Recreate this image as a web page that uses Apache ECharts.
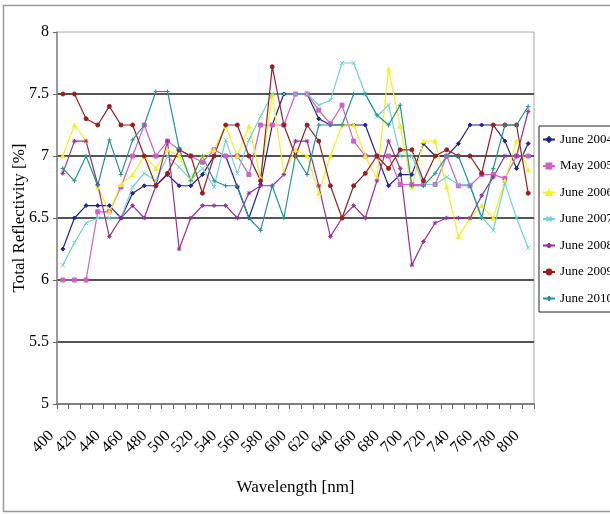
<!DOCTYPE html>
<html>
<head>
<meta charset="utf-8">
<script src="https://cdn.jsdelivr.net/npm/echarts@6/dist/echarts.min.js"></script>
<style>
  html, body { margin: 0; padding: 0; background: #fff; }
  #chart { width: 610px; height: 514px; }
</style>
</head>
<body>
<div id="chart"></div>
<script>
// wavelengths 400..800 nm, step 10
const wavelengths = ['400', '410', '420', '430', '440', '450', '460', '470', '480', '490',
  '500', '510', '520', '530', '540', '550', '560', '570', '580', '590',
  '600', '610', '620', '630', '640', '650', '660', '670', '680', '690',
  '700', '710', '720', '730', '740', '750', '760', '770', '780', '790', '800']

const june2004 = [6.25, 6.5, 6.6, 6.6, 6.6, 6.5, 6.7, 6.76, 6.76, 6.85,
  6.76, 6.76, 6.85, 7.0, 7.0, 6.75, 6.5, 6.77, 7.25, 7.5,
  7.5, 7.5, 7.3, 7.25, 7.25, 7.25, 7.25, 7.0, 6.76, 6.85,
  6.85, 7.1, 7.0, 7.0, 7.1, 7.25, 7.25, 7.25, 7.12, 6.9, 7.1]
const may2005 = [6.0, 6.0, 6.0, 6.55, 6.55, 6.75, 7.0, 7.25, 7.0, 7.12,
  7.05, 7.0, 6.95, 7.05, 7.0, 7.0, 6.85, 7.25, 7.25, 7.25,
  7.5, 7.5, 7.37, 7.26, 7.41, 7.12, 7.0, 7.0, 7.0, 6.77,
  6.77, 6.77, 6.77, 7.0, 6.76, 6.76, 6.85, 6.85, 6.82, 7.0, 7.0]
const june2006 = [7.0, 7.25, 7.12, 6.75, 6.55, 6.77, 6.85, 7.0, 6.9, 7.05,
  7.0, 6.82, 7.0, 7.05, 7.24, 7.0, 7.24, 6.82, 7.5, 6.86,
  7.05, 7.0, 6.7, 7.0, 7.25, 7.25, 7.0, 6.82, 7.7, 7.24,
  6.75, 7.12, 7.12, 6.75, 6.35, 6.5, 6.6, 6.5, 6.8, 7.12, 6.89]
const june2007 = [6.12, 6.3, 6.46, 6.5, 6.5, 6.5, 6.75, 6.86, 6.8, 7.0,
  6.91, 6.81, 6.9, 6.75, 7.13, 6.86, 7.13, 7.32, 7.5, 7.5,
  7.5, 7.5, 7.41, 7.45, 7.75, 7.75, 7.5, 7.32, 7.41, 7.0,
  7.0, 6.77, 6.77, 6.83, 6.77, 6.77, 6.51, 6.4, 6.78, 6.5, 6.26]
const june2008 = [6.86, 7.12, 7.12, 6.77, 6.35, 6.5, 6.6, 6.5, 6.76, 7.12,
  6.25, 6.5, 6.6, 6.6, 6.6, 6.5, 6.7, 6.76, 6.76, 6.85,
  7.12, 7.12, 6.76, 6.35, 6.5, 6.6, 6.5, 6.8, 7.12, 6.9,
  6.12, 6.31, 6.46, 6.5, 6.5, 6.5, 6.68, 6.83, 7.0, 7.0, 7.36]
const june2009 = [7.5, 7.5, 7.3, 7.25, 7.4, 7.25, 7.25, 7.0, 6.76, 6.86,
  7.05, 7.0, 6.7, 7.0, 7.25, 7.25, 7.0, 6.8, 7.72, 7.25,
  7.0, 7.25, 7.12, 6.76, 6.5, 6.76, 6.86, 7.0, 6.9, 7.05,
  7.05, 6.8, 7.0, 7.05, 7.0, 7.0, 6.86, 7.25, 7.25, 7.25, 6.7]
const june2010 = [6.9, 6.8, 7.0, 6.76, 7.13, 6.85, 7.13, 7.25, 7.52, 7.52,
  7.06, 6.8, 7.0, 6.8, 6.76, 6.76, 6.5, 6.4, 6.76, 6.5,
  7.0, 6.85, 7.25, 7.25, 7.25, 7.5, 7.5, 7.33, 7.25, 7.41,
  6.76, 6.76, 6.86, 7.0, 7.0, 6.76, 6.5, 6.9, 7.25, 7.25, 7.4]

const seriesNames = ['June 2004', 'May 2005', 'June 2006', 'June 2007', 'June 2008', 'June 2009', 'June 2010']
const seriesValues = [june2004, may2005, june2006, june2007, june2008, june2009, june2010]
const colors = ['#23238f', '#d060c4', '#f2f21e', '#74d2d2', '#96309c', '#962020', '#249494']

const xMark = 'path://M0,0 L10,10 M10,0 L0,10'
const starMark = 'path://M5,0 L5,10 M0,5 L10,5 M1.5,1.5 L8.5,8.5 M8.5,1.5 L1.5,8.5'
const plusMark = 'path://M5,0 L5,10 M0,5 L10,5'
const symbols = ['diamond', 'rect', 'triangle', xMark, starMark, 'circle', plusMark]

const serif = '"Liberation Serif", "DejaVu Serif", serif'

const chart = echarts.init(document.getElementById('chart'))

const series = seriesNames.map(function (name, i) {
  return {
    name: name,
    type: 'line',
    data: seriesValues[i],
    symbol: symbols[i],
    symbolSize: (i === 3 || i === 4 || i === 6) ? 4.5 : 4,
    showAllSymbol: true,
    lineStyle: { color: colors[i], width: 1.2 },
    itemStyle: { color: colors[i], borderColor: colors[i], borderWidth: 1 },
    emphasis: { disabled: true },
    animation: false
  }
})

chart.setOption({
  animation: false,
  color: colors,
  grid: {
    left: 57,
    right: 76,
    top: 32,
    bottom: 110,
    outerBoundsMode: 'none',
    containLabel: false,
    show: true,
    borderColor: '#a8a8a8',
    borderWidth: 1
  },
  graphic: [{
    type: 'rect',
    silent: true,
    shape: { x: 3.5, y: 5.5, width: 700, height: 506 },
    style: { fill: 'none', stroke: '#999', lineWidth: 1.5 }
  }],
  legend: {
    orient: 'vertical',
    left: 539,
    top: 126,
    data: seriesNames,
    backgroundColor: '#fff',
    borderColor: '#222',
    borderWidth: 1,
    padding: [7, 40, 7, 3],
    itemGap: 13.5,
    itemWidth: 12,
    itemHeight: 6,
    textStyle: { fontFamily: serif, fontSize: 13, color: '#000' }
  },
  xAxis: {
    type: 'category',
    data: wavelengths,
    boundaryGap: true,
    name: 'Wavelength [nm]',
    nameLocation: 'middle',
    nameGap: 75,
    nameMoveOverlap: false,
    nameTextStyle: { fontFamily: serif, fontSize: 17, color: '#000' },
    axisLine: { lineStyle: { color: '#666', width: 1.5 } },
    axisTick: { show: true, interval: 0, length: 5, lineStyle: { color: '#666' } },
    axisLabel: {
      interval: 1,
      rotate: 45,
      margin: 18,
      padding: [0, 16, 0, 0],
      fontFamily: serif,
      fontSize: 16,
      color: '#000'
    },
    splitLine: { show: false }
  },
  yAxis: {
    type: 'value',
    min: 5,
    max: 8,
    interval: 0.5,
    name: 'Total Reflectivity [%]',
    nameLocation: 'middle',
    nameGap: 29,
    nameRotate: 90,
    nameMoveOverlap: false,
    nameTextStyle: { fontFamily: serif, fontSize: 17, color: '#000' },
    axisLine: { show: true, lineStyle: { color: '#888', width: 1.5 } },
    axisTick: { show: true, length: 4, lineStyle: { color: '#666' } },
    axisLabel: { margin: 8, fontFamily: serif, fontSize: 16, color: '#000' },
    splitLine: {
      show: true,
      showMinLine: false,
      showMaxLine: false,
      lineStyle: { color: '#555', width: 2 }
    }
  },
  series: series
})
</script>
</body>
</html>
